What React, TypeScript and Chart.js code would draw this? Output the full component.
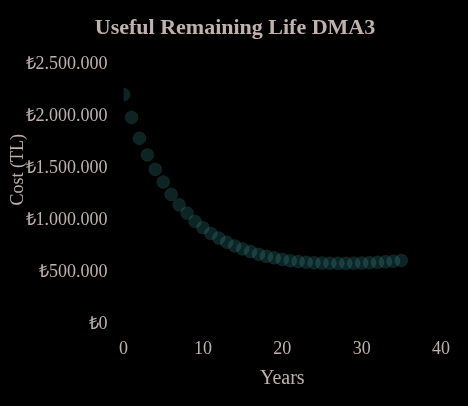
import React, { useEffect, useRef } from "react";
import { Chart, registerables } from "chart.js";

Chart.register(...registerables);

const years: number[] = Array.from({ length: 36 }, (_, i) => i);
const costs: number[] = [
  2210000, 1990000, 1790000, 1630000, 1490000, 1370000, 1250000, 1150000,
  1070000, 990000, 930000, 875000, 830000, 790000, 755000, 725000, 700000,
  675000, 655000, 640000, 625000, 613000, 605000, 598000, 593000, 590000,
  588000, 587000, 587000, 588000, 590000, 593000, 597000, 602000, 608000,
  615000,
];
const yTicks: number[] = [0, 500000, 1000000, 1500000, 2000000, 2500000];
const xTicks: number[] = [0, 10, 20, 30, 40];

const titleText = "\u00A0".repeat(4) + "Useful Remaining Life DMA3";
const xTitle = "Years";
const yTitle = "\u00A0".repeat(11) + "Cost (TL)";

const textColor = "#c0b1ae";
const family = "'Liberation Serif', 'Times New Roman', serif";

function fmtTL(v: number): string {
  const s = Math.round(v).toString();
  return "₺" + s.replace(/\B(?=(\d{3})+(?!\d))/g, ".");
}

export default function App() {
  const ref = useRef<HTMLCanvasElement | null>(null);

  useEffect(() => {
    document.body.style.margin = "0";
    document.body.style.background = "#000";
    if (!ref.current) return;
    const chart = new Chart(ref.current, {
      type: "scatter",
      data: {
        datasets: [
          {
            label: "Cost",
            data: years.map((x, i) => ({ x, y: costs[i] })),
            backgroundColor: "rgba(75,192,192,0.18)",
            borderColor: "rgba(75,192,192,0.08)",
            borderWidth: 1,
            pointRadius: 6.5,
          },
        ],
      },
      options: {
        animation: false,
        responsive: false,
        layout: { padding: { left: 7, right: 27, top: 0, bottom: 15 } },
        plugins: {
          legend: { display: false },
          tooltip: { enabled: false },
          title: {
            display: true,
            text: titleText,
            color: textColor,
            font: { family, size: 22, weight: "bold" },
            padding: { top: 15, bottom: 23 },
          },
        },
        scales: {
          x: {
            type: "linear",
            min: 0,
            max: 40,
            afterBuildTicks: (axis: any) => {
              axis.ticks = xTicks.map((v) => ({ value: v }));
            },
            grid: { display: false },
            border: { display: false },
            ticks: {
              color: textColor,
              font: { family, size: 18 },
              padding: 6,
            },
            title: {
              display: true,
              text: xTitle,
              color: textColor,
              font: { family, size: 20 },
              padding: { top: 1, bottom: 0 },
            },
          },
          y: {
            type: "linear",
            min: 0,
            max: 2500000,
            afterBuildTicks: (axis: any) => {
              axis.ticks = yTicks.map((v) => ({ value: v }));
            },
            grid: { display: false },
            border: { display: false },
            ticks: {
              color: textColor,
              font: { family, size: 18 },
              padding: 8,
              callback: (v: any) => fmtTL(Number(v)),
            },
            title: {
              display: true,
              text: yTitle,
              color: textColor,
              font: { family, size: 18 },
              padding: { top: 0, bottom: -11 },
            },
          },
        },
      },
    });
    return () => chart.destroy();
  }, []);

  return (
    <div style={{ width: 468, height: 406, background: "#000" }}>
      <canvas ref={ref} width={468} height={406} style={{ display: "block" }} />
    </div>
  );
}
